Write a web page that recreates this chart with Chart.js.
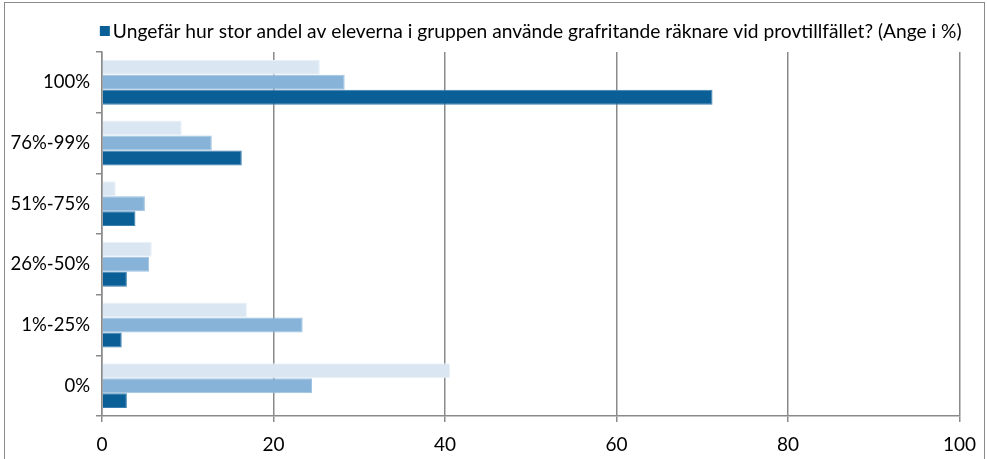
<!DOCTYPE html>
<html>
<head>
<meta charset="utf-8">
<script src="https://cdn.jsdelivr.net/npm/chart.js@4/dist/chart.umd.min.js"></script>
<style>
  html, body { margin: 0; padding: 0; background: #fff; }
  #frame {
    position: absolute; left: 4px; top: 2px; width: 981px; height: 470px;
    border: 1.5px solid #8a8a8a; box-sizing: border-box;
  }
  #wrap { position: absolute; left: 0; top: 0; width: 987px; height: 459px; }
</style>
</head>
<body>
<div id="frame"></div>
<div id="wrap"><canvas id="myChart" width="987" height="459"></canvas></div>
<script>
// answer groups, top to bottom
const categories = ["100%", "76%-99%", "51%-75%", "26%-50%", "1%-25%", "0%"];
// three groups of responses; only the last one has a legend entry
const seriesLight = [25.4, 9.3, 1.6, 5.8, 16.9, 40.6];
const seriesMedium = [28.3, 12.8, 5.0, 5.5, 23.4, 24.5];
const seriesDark = [71.2, 16.3, 3.9, 2.9, 2.3, 2.9];
const legendLabel = "Ungefär hur stor andel av eleverna i gruppen använde grafritande räknare vid provtillfället? (Ange i %)";
const xTicks = [0, 20, 40, 60, 80, 100];

const fontFamily = "Lato, 'Liberation Sans', sans-serif";
const gridColor = "#8a8a8a";

const ctx = document.getElementById("myChart").getContext("2d");

// single legend entry with a tight gap between swatch and text,
// centred over the plot area
const tightLegend = {
  id: 'tightLegend',
  afterDraw(chart) {
    const ds = chart.data.datasets[2];
    const c = chart.ctx;
    const area = chart.chartArea;
    c.save();
    c.font = "19.2px " + fontFamily;
    const textW = c.measureText(ds.label).width;
    const box = 10, gap = 3;
    const total = box + gap + textW;
    const left = (area.left + area.right) / 2 - total / 2;
    const midY = 31;
    c.fillStyle = ds.backgroundColor;
    c.fillRect(left, midY - box / 2, box, box);
    c.fillStyle = "#000";
    c.textBaseline = "middle";
    c.textAlign = "left";
    c.fillText(ds.label, left + box + gap, midY + 1);
    c.restore();
  }
};

var chartData = {
  type: "bar",
  data: {
    labels: categories,
    datasets: [{
      label: "",
      data: seriesLight,
      backgroundColor: "#dae7f3",
      borderColor: "#e9f1f8",
      borderWidth: 1
    }, {
      label: "",
      data: seriesMedium,
      backgroundColor: "#87b3d8",
      borderColor: "#9cc1e1",
      borderWidth: 1
    }, {
      label: legendLabel,
      data: seriesDark,
      backgroundColor: "#0a5f96",
      borderColor: "#3a7fae",
      borderWidth: 1
    }]
  },
  options: {
    indexAxis: 'y',
    responsive: false,
    animation: false,
    layout: {
      padding: { left: 4, right: 27, top: 52, bottom: 0 }
    },
    datasets: {
      bar: { categoryPercentage: 0.74, barPercentage: 1.0 }
    },
    scales: {
      x: {
        min: 0,
        max: 100,
        afterBuildTicks: function (scale) {
          scale.ticks = xTicks.map(v => ({ value: v }));
        },
        afterFit: function (scale) { scale.height = 43; },
        grid: {
          color: gridColor,
          lineWidth: 1.5,
          drawTicks: true,
          tickLength: 6
        },
        border: { display: true, color: gridColor, width: 1.5 },
        ticks: {
          color: "#000",
          padding: 11,
          font: { family: fontFamily, size: 19 }
        }
      },
      y: {
        afterFit: function (scale) { scale.width = 98; },
        grid: {
          offset: true,
          drawOnChartArea: false,
          drawTicks: true,
          tickLength: 6,
          color: gridColor,
          lineWidth: 1.5
        },
        border: { display: true, color: gridColor, width: 1.5 },
        ticks: {
          color: "#000",
          padding: 6,
          font: { family: fontFamily, size: 18.5 }
        }
      }
    },
    plugins: {
      tooltip: { enabled: false },
      legend: { display: false }
    }
  },
  plugins: [tightLegend]
};

var gradeChart = new Chart(ctx, chartData);
</script>
</body>
</html>
